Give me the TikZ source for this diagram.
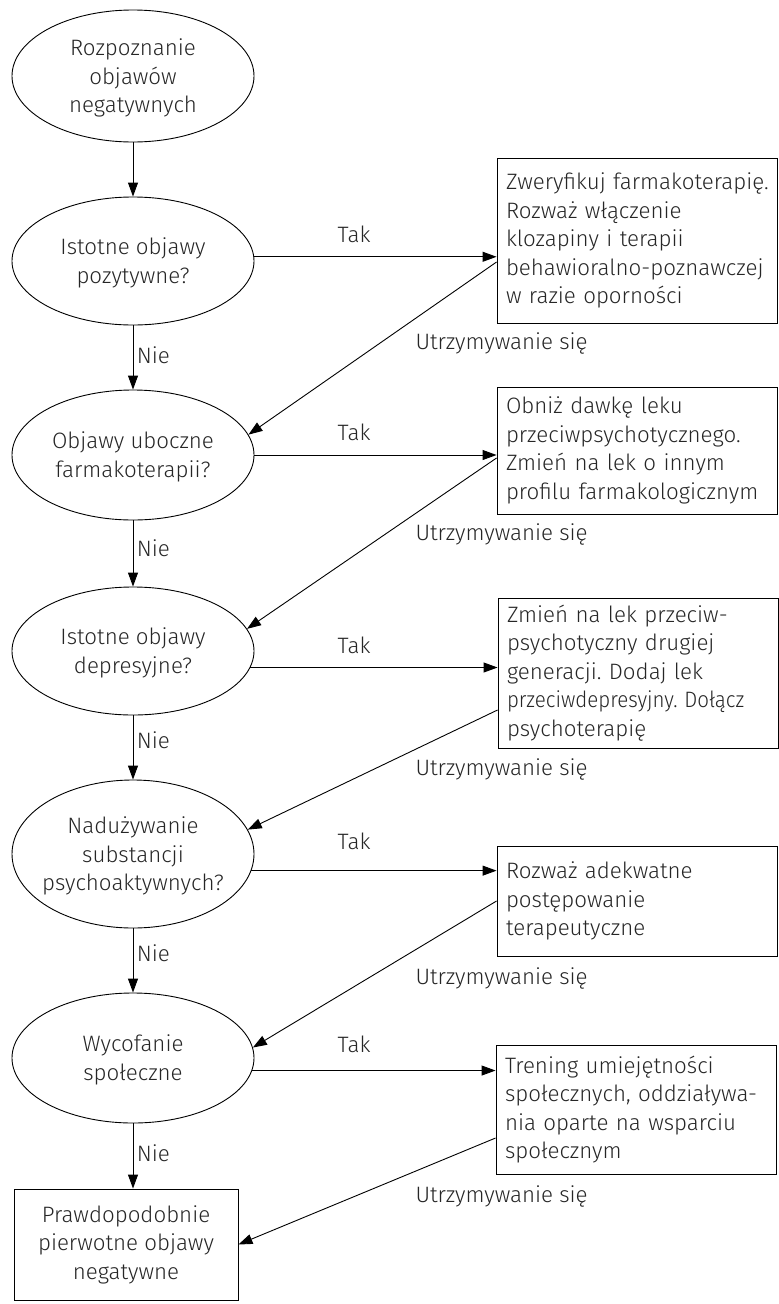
\documentclass[tikz,border=0pt]{standalone}
\usepackage{fontspec}
\usepackage{graphicx}
\setmainfont{Fira Sans}[UprightFont=* Light]
\usetikzlibrary{shapes.geometric,arrows.meta}
\frenchspacing
\begin{document}
\begin{tikzpicture}[x=1pt,y=-1pt,
  every node/.style={font=\fontsize{22.3pt}{28.5pt}\selectfont, text=black!85},
  dec/.style={draw, ellipse, inner sep=0pt, line width=0.9pt, minimum width=242pt, minimum height=130pt},
  act/.style={draw, rectangle, inner xsep=9pt, inner ysep=0pt, line width=0.9pt, text width=262pt, align=left},
  arr/.style={line width=0.9pt, -{Triangle[length=14pt,width=10pt]}},
  lbl/.style={anchor=base},
  ulbl/.style={anchor=base west},
  inl/.style={align=center, yshift=-2pt}]
\useasboundingbox (0,0) rectangle (779,1304);

% decisions
\node[dec, minimum height=132pt, label={[inl]center:Rozpoznanie\\objawów\\negatywnych}] (E1) at (133,76) {};
\node[dec, minimum height=128pt, label={[inl]center:Istotne objawy\\pozytywne?}] (E2) at (133,261) {};
\node[dec, label={[inl]center:Objawy uboczne\\farmakoterapii?}] (E3) at (133,455) {};
\node[dec, minimum height=128pt, label={[inl]center:Istotne objawy\\depresyjne?}] (E4) at (133,651) {};
\node[dec, minimum height=148pt, label={[inl]center:Nadużywanie\\substancji\\psychoaktywnych?}] (E5) at (133,854) {};
\node[dec, label={[inl]center:Wycofanie\\społeczne}] (E6) at (133,1058) {};
\node[draw, rectangle, line width=0.9pt, minimum width=224pt, minimum height=111pt, align=center] (F) at (126,1244.5) {Prawdopodobnie\\pierwotne objawy\\negatywne};

% actions
\node[act, minimum height=165pt] (B1) at (637,240.5) {\mbox{Zweryfikuj farmakoterapię.}\\\mbox{Rozważ włączenie}\\\mbox{klozapiny i terapii}\\\mbox{behawioralno-poznawczej}\\\mbox{w razie oporności}};
\node[act, minimum height=127pt] (B2) at (637,450.5) {\mbox{Obniż dawkę leku}\\\mbox{przeciwpsychotycznego.}\\\mbox{Zmień na lek o innym}\\\mbox{profilu farmakologicznym}};
\node[act, minimum height=150pt] (B3) at (638,673) {\mbox{Zmień na lek przeciw-}\\\mbox{psychotyczny drugiej}\\\mbox{generacji. Dodaj lek}\\\scalebox{0.92}[1]{przeciwdepresyjny. Dołącz}\\\mbox{psychoterapię}};
\node[act, minimum height=110pt] (B4) at (637,901) {\mbox{Rozważ adekwatne}\\\mbox{postępowanie}\\\mbox{terapeutyczne}};
\node[act, minimum height=129pt] (B5) at (636,1109.5) {\mbox{Trening umiejętności}\\\mbox{społecznych, oddziaływa-}\\\mbox{nia oparte na wsparciu}\\\mbox{społecznym}};

% vertical "Nie" arrows
\draw[arr] (E1.south) -- (E2.north);
\draw[arr] (E2.south) -- node[right, pos=0.47] {Nie} (E3.north);
\draw[arr] (E3.south) -- node[right, pos=0.42] {Nie} (E4.north);
\draw[arr] (E4.south) -- node[right, pos=0.38] {Nie} (E5.north);
\draw[arr] (E5.south) -- node[right, pos=0.38] {Nie} (E6.north);
\draw[arr] (E6.south) -- node[right, pos=0.45] {Nie} (E6.south |- F.north);

% horizontal "Tak" arrows
\draw[arr] (E2.2) -- (E2.2 -| B1.west);
\draw[arr] (E3.east) -- (E3.east -| B2.west);
\draw[arr] (E4.-8) -- (E4.-8 -| B3.west);
\draw[arr] (E5.-8) -- (E5.-8 -| B4.west);
\draw[arr] (E6.-6) -- (E6.-6 -| B5.west);
\node[lbl] (T1) at (354,242) {Tak};
\node[lbl] (T2) at (354,440) {Tak};
\node[lbl] (T3) at (354,653) {Tak};
\node[lbl] (T4) at (354,849) {Tak};
\node[lbl] (T5) at (354,1052) {Tak};

% "Utrzymywanie się" arrows
\draw[arr] ([yshift=-21.5pt]B1.west) -- (E3.10);
\draw[arr] ([yshift=-7.5pt]B2.west) -- (E4.11);
\draw[arr] ([yshift=-37pt]B3.west) -- (E5.12);
\draw[arr] (B4.west) -- (E6.5);
\draw[arr] ([yshift=-28.5pt]B5.west) -- (F.east);
\node[ulbl] (U1) at (412,349) {Utrzymywanie się};
\node[ulbl] (U2) at (412,540) {Utrzymywanie się};
\node[ulbl] (U3) at (412,775) {Utrzymywanie się};
\node[ulbl] (U4) at (412,984) {Utrzymywanie się};
\node[ulbl] (U5) at (412,1202) {Utrzymywanie się};
\end{tikzpicture}
\end{document}
